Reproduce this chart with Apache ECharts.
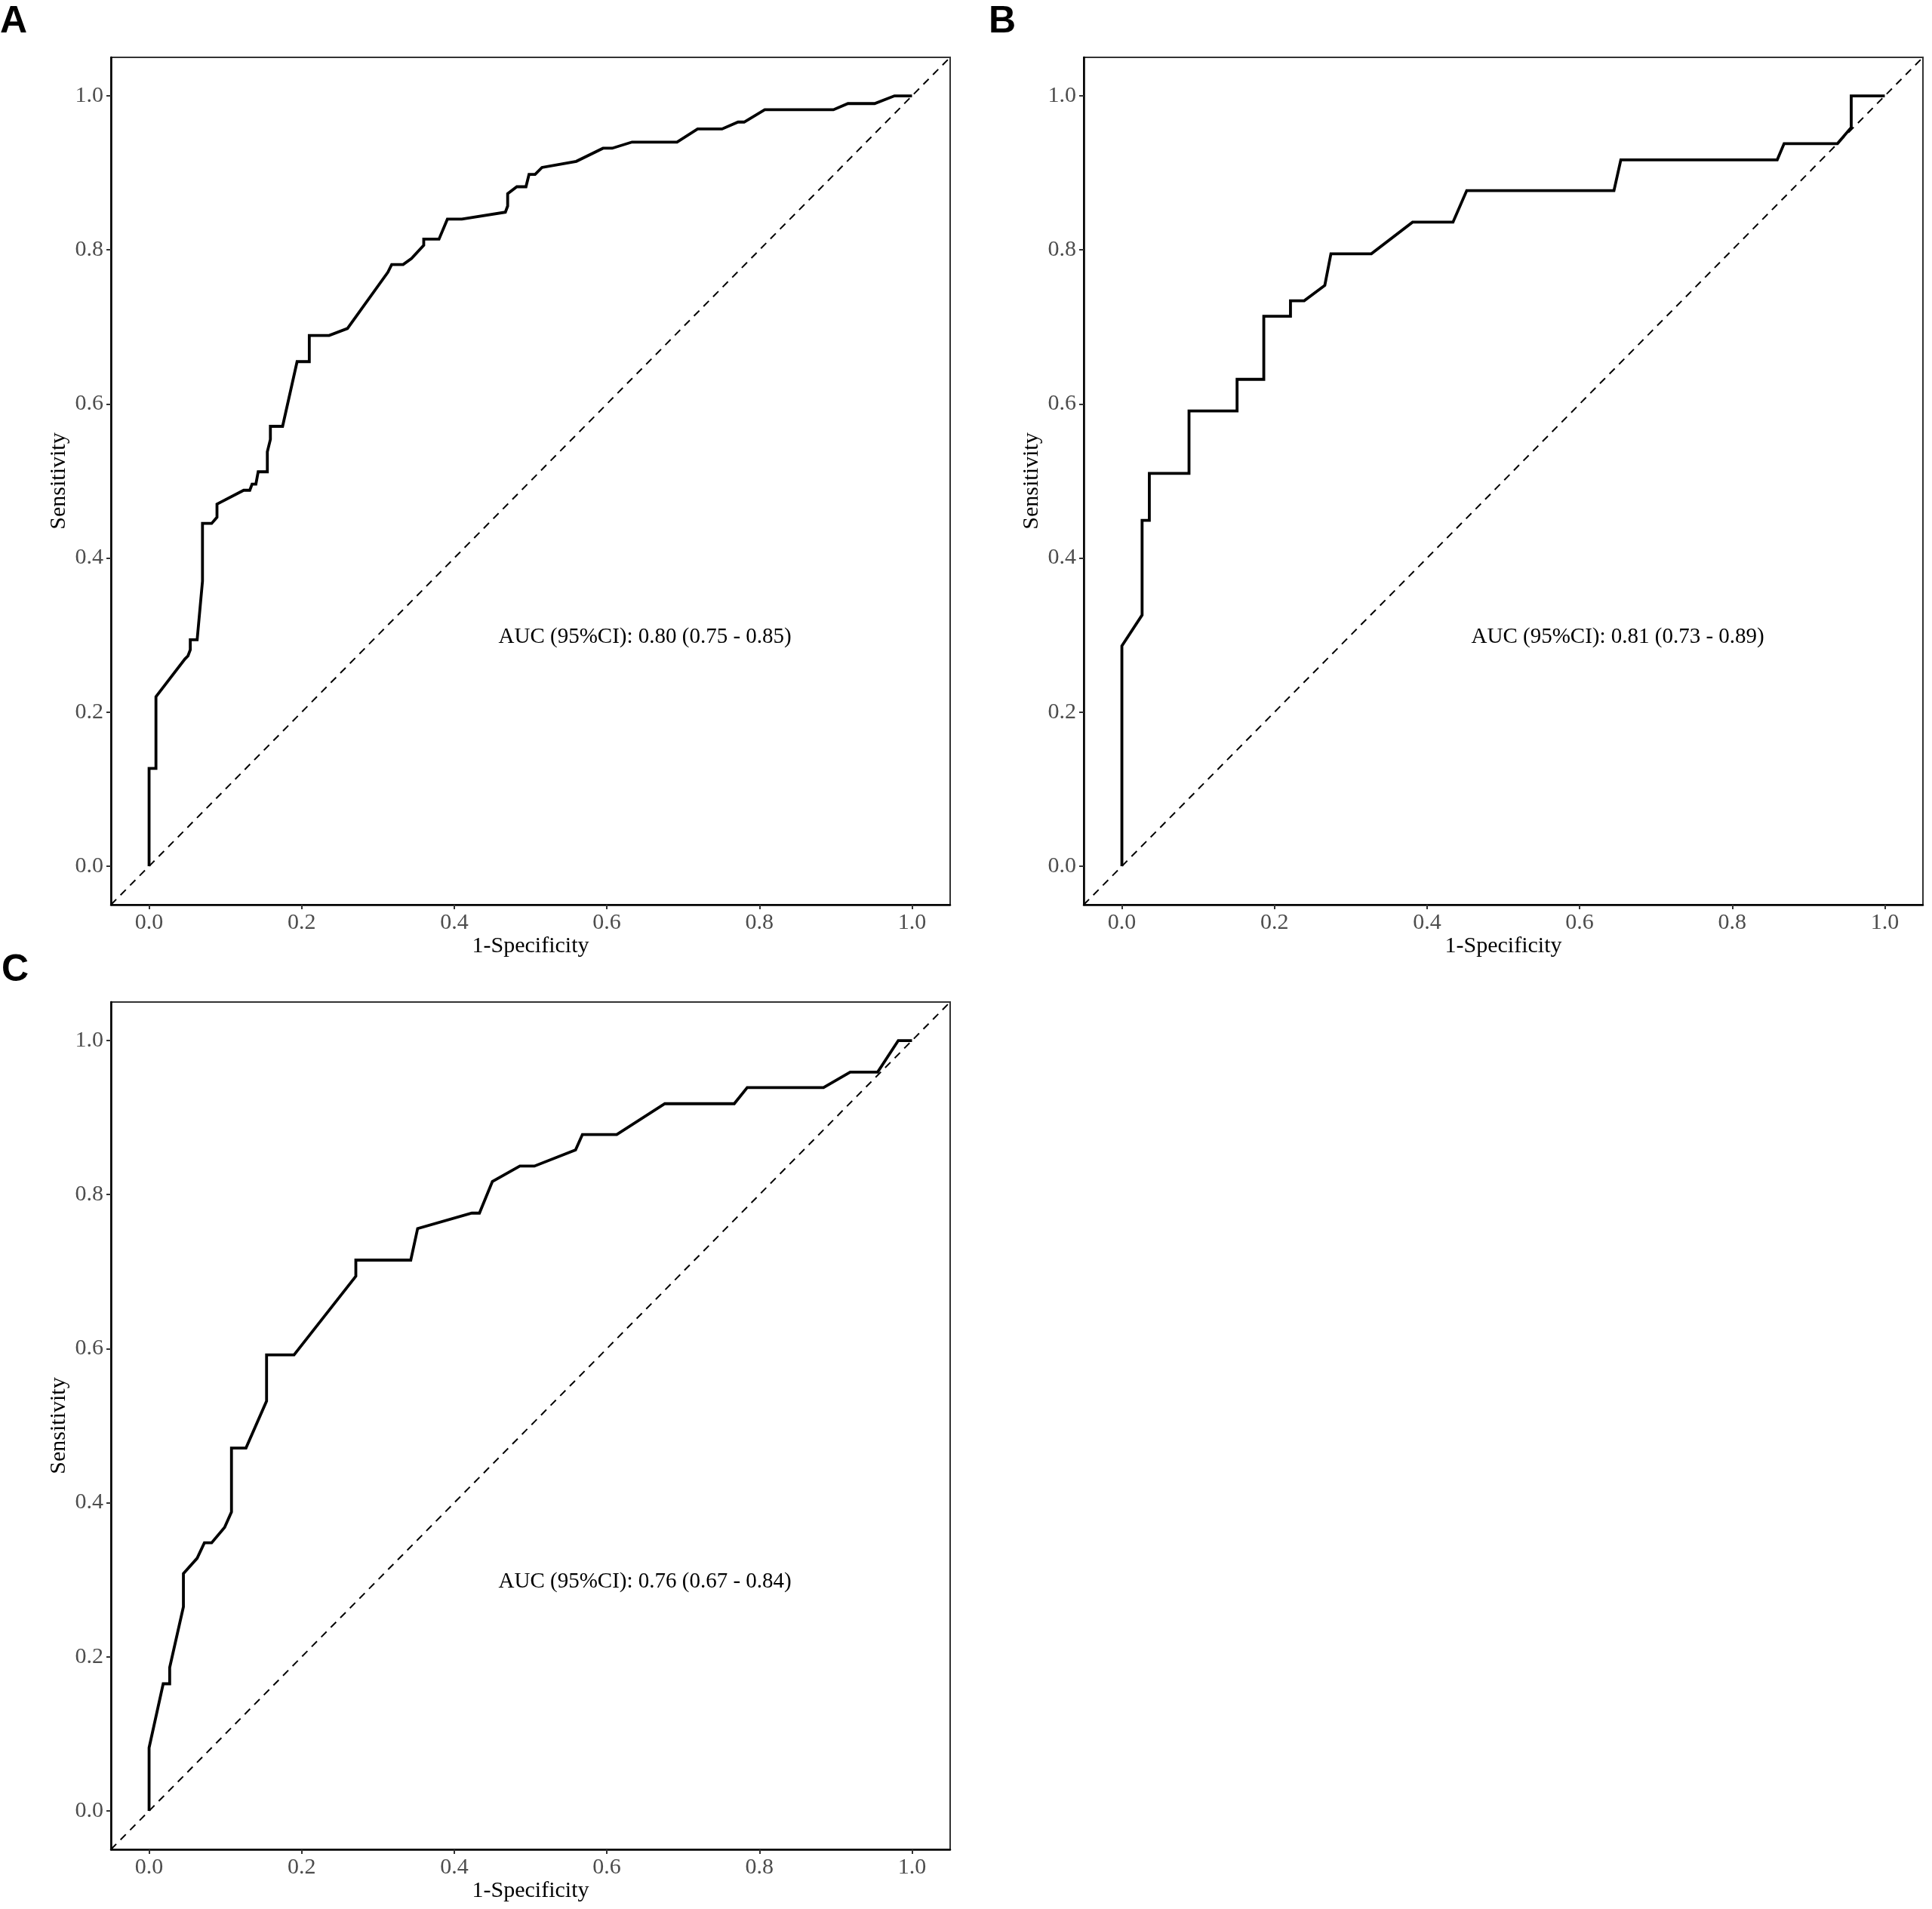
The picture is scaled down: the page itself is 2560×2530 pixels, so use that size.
<!DOCTYPE html>
<html>
<head>
<meta charset="utf-8">
<title>ROC curves</title>
<script src="https://cdn.jsdelivr.net/npm/echarts@6/dist/echarts.min.js"></script>
<style>
  html, body { margin: 0; padding: 0; background: #fff; }
  #main { width: 2560px; height: 2530px; }
</style>
</head>
<body>
<div id="main"></div>
<script>
// ROC points: [1-Specificity, Sensitivity]
const rocA = [
  [0, 0], [0, 0.127], [0.009, 0.127], [0.009, 0.220], [0.047, 0.269], [0.051, 0.273],
  [0.054, 0.281], [0.054, 0.294], [0.063, 0.294], [0.070, 0.370], [0.070, 0.445],
  [0.082, 0.445], [0.089, 0.453], [0.089, 0.470], [0.124, 0.488], [0.132, 0.488],
  [0.135, 0.496], [0.140, 0.496], [0.143, 0.512], [0.155, 0.512], [0.155, 0.538],
  [0.159, 0.554], [0.159, 0.571], [0.175, 0.571], [0.194, 0.655], [0.210, 0.655],
  [0.210, 0.689], [0.236, 0.689], [0.260, 0.698], [0.313, 0.771], [0.318, 0.781],
  [0.333, 0.781], [0.344, 0.789], [0.360, 0.806], [0.360, 0.814], [0.380, 0.814],
  [0.391, 0.840], [0.410, 0.840], [0.467, 0.849], [0.470, 0.857], [0.470, 0.873],
  [0.482, 0.882], [0.494, 0.882], [0.498, 0.898], [0.506, 0.898], [0.515, 0.907],
  [0.560, 0.915], [0.595, 0.932], [0.607, 0.932], [0.633, 0.940], [0.692, 0.940],
  [0.719, 0.957], [0.751, 0.957], [0.772, 0.966], [0.780, 0.966], [0.807, 0.982],
  [0.897, 0.982], [0.916, 0.990], [0.951, 0.990], [0.977, 1.0], [1.0, 1.0]
]
const rocB = [
  [0, 0], [0, 0.286], [0.0265, 0.326], [0.0265, 0.449], [0.036, 0.449], [0.036, 0.510],
  [0.088, 0.510], [0.088, 0.591], [0.151, 0.591], [0.151, 0.632], [0.186, 0.632],
  [0.186, 0.714], [0.221, 0.714], [0.221, 0.734], [0.239, 0.734], [0.266, 0.754],
  [0.274, 0.795], [0.327, 0.795], [0.381, 0.836], [0.434, 0.836], [0.452, 0.877],
  [0.645, 0.877], [0.654, 0.917], [0.859, 0.917], [0.868, 0.938], [0.938, 0.938],
  [0.956, 0.959], [0.956, 1.0], [1.0, 1.0]
]
const rocC = [
  [0, 0], [0, 0.082], [0.0185, 0.165], [0.027, 0.165], [0.027, 0.186], [0.045, 0.265],
  [0.045, 0.308], [0.063, 0.328], [0.0725, 0.348], [0.082, 0.348], [0.099, 0.368],
  [0.108, 0.388], [0.108, 0.471], [0.127, 0.471], [0.154, 0.532], [0.154, 0.592],
  [0.190, 0.592], [0.271, 0.694], [0.271, 0.715], [0.343, 0.715], [0.352, 0.756],
  [0.423, 0.776], [0.433, 0.776], [0.450, 0.817], [0.486, 0.837], [0.505, 0.837],
  [0.559, 0.858], [0.568, 0.878], [0.613, 0.878], [0.676, 0.918], [0.767, 0.918],
  [0.784, 0.939], [0.884, 0.939], [0.919, 0.959], [0.955, 0.959], [0.982, 1.0], [1.0, 1.0]
]

// AUC annotations
const aucTexts = [
  'AUC (95%CI): 0.80 (0.75 - 0.85)',
  'AUC (95%CI): 0.81 (0.73 - 0.89)',
  'AUC (95%CI): 0.76 (0.67 - 0.84)'
]
const panelLetters = ['A', 'B', 'C']

// axis ticks and the chance diagonal
const tickValues = [0, 0.2, 0.4, 0.6, 0.8, 1.0]
const chanceLine = [[-0.05, -0.05], [1.05, 1.05]]
const aucAt = [0.65, 0.297]

const rocData = [rocA, rocB, rocC]

// panel boxes in pixels
const boxes = [
  { left: 147, top: 76 },
  { left: 1436, top: 76 },
  { left: 147, top: 1328 }
]
const letterPos = [
  { left: 0, top: 4 },
  { left: 1310, top: 4 },
  { left: 2, top: 1261 }
]

const serif = '"Liberation Serif", "Times New Roman", serif'

const chart = echarts.init(document.getElementById('main'))

const grid = []
const xAxis = []
const yAxis = []
const series = []
const title = []

boxes.forEach((b, i) => {
  grid.push({
    left: b.left, top: b.top, width: 1112, height: 1123,
    show: true, borderColor: '#333', borderWidth: 2, backgroundColor: '#fff'
  })

  xAxis.push({
    type: 'value', gridIndex: i, min: -0.05, max: 1.05,
    name: '1-Specificity', nameLocation: 'middle', nameGap: 40,
    nameTextStyle: { fontFamily: serif, fontSize: 30, color: '#000' },
    axisLine: { show: true, onZero: false, lineStyle: { color: '#000', width: 2.5 } },
    axisTick: { show: true, length: 6, customValues: tickValues, lineStyle: { color: '#333', width: 2 } },
    axisLabel: {
      customValues: tickValues, margin: 9, fontFamily: serif, fontSize: 30, color: '#4d4d4d',
      formatter: v => v.toFixed(1)
    },
    splitLine: { show: false }
  })

  yAxis.push({
    type: 'value', gridIndex: i, min: -0.05, max: 1.05,
    name: 'Sensitivity', nameLocation: 'middle', nameGap: 54,
    nameTextStyle: { fontFamily: serif, fontSize: 30, color: '#000' },
    axisLine: { show: true, onZero: false, lineStyle: { color: '#000', width: 2.5 } },
    axisTick: { show: true, length: 6, customValues: tickValues, lineStyle: { color: '#333', width: 2 } },
    axisLabel: {
      customValues: tickValues, margin: 10, fontFamily: serif, fontSize: 30, color: '#4d4d4d',
      formatter: v => v.toFixed(1)
    },
    splitLine: { show: false }
  })

  // chance diagonal
  series.push({
    type: 'line', xAxisIndex: i, yAxisIndex: i, data: chanceLine,
    showSymbol: false, silent: true, z: 2,
    lineStyle: { color: '#000', width: 2, type: [10, 8] }
  })

  // ROC curve
  series.push({
    type: 'line', xAxisIndex: i, yAxisIndex: i, data: rocData[i],
    showSymbol: false, silent: true, z: 3,
    lineStyle: { color: '#000', width: 3.8, join: 'miter' }
  })

  // AUC text
  series.push({
    type: 'scatter', xAxisIndex: i, yAxisIndex: i, data: [aucAt],
    symbolSize: 0, silent: true,
    itemStyle: { opacity: 1 },
    label: {
      show: true, position: 'inside', formatter: aucTexts[i], opacity: 1,
      fontFamily: serif, fontSize: 29, color: '#000'
    }
  })

  title.push({
    text: panelLetters[i], left: letterPos[i].left, top: letterPos[i].top, padding: 0,
    textStyle: { fontFamily: '"Liberation Sans", Arial, sans-serif', fontWeight: 'bold', fontSize: 50, color: '#000' }
  })
})

chart.setOption({
  backgroundColor: '#fff',
  animation: false,
  title: title,
  grid: grid,
  xAxis: xAxis,
  yAxis: yAxis,
  series: series
})
</script>
</body>
</html>
